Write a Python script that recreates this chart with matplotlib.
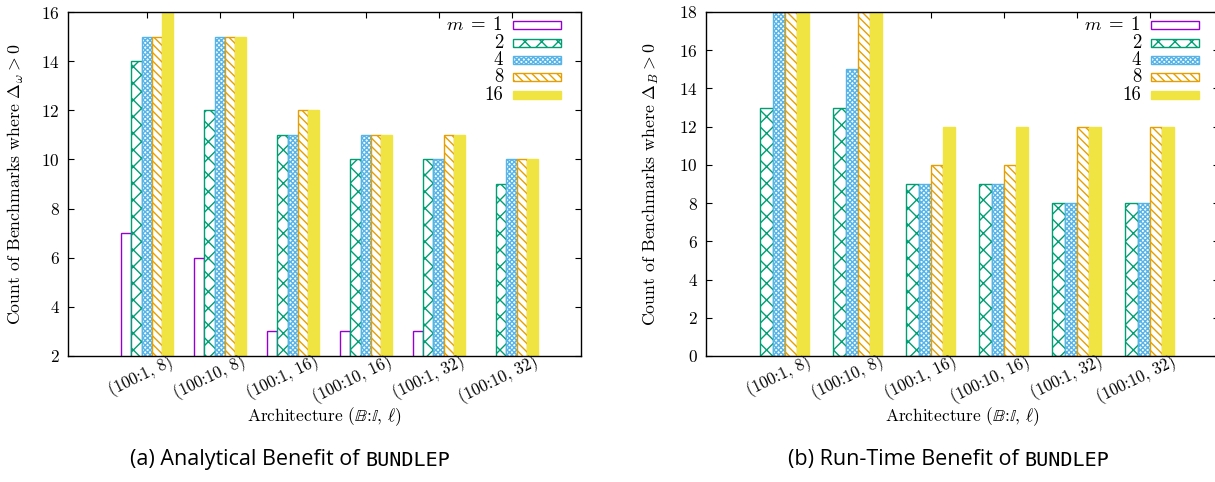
import matplotlib
matplotlib.use("Agg")
import matplotlib.pyplot as plt
import matplotlib.transforms as mtransforms
from matplotlib.patches import Rectangle
import numpy as np

# ---------------- data ----------------
architectures = ["(100:1, 8)", "(100:10, 8)", "(100:1, 16)",
                 "(100:10, 16)", "(100:1, 32)", "(100:10, 32)"]
series_labels = ["$m\\;=\\;1$", "2", "4", "8", "16"]

# (a) Analytical benefit: count of benchmarks where Delta_omega > 0
a_m1 = [7, 6, 3, 3, 3, 0]
a_m2 = [14, 12, 11, 10, 10, 9]
a_m4 = [15, 15, 11, 11, 10, 10]
a_m8 = [15, 15, 12, 11, 11, 10]
a_m16 = [16, 15, 12, 11, 11, 10]

# (b) Run-time benefit: count of benchmarks where Delta_B > 0 (m = 1 not plotted)
b_m2 = [13, 13, 9, 9, 8, 8]
b_m4 = [18, 15, 9, 9, 8, 8]
b_m8 = [18, 18, 10, 10, 12, 12]
b_m16 = [18, 18, 12, 12, 12, 12]

a_yticks = [2, 4, 6, 8, 10, 12, 14, 16]
b_yticks = [0, 2, 4, 6, 8, 10, 12, 14, 16, 18]

# ---------------- style ----------------
colors = ["#9400d3", "#009e73", "#56b4e9", "#e69f00", "#f0e442"]
hatches = [None, "xx", "xxxxxxx", "\\\\\\\\", None]
faces = ["white", "white", "white", "white", "#f0e442"]

plt.rcParams["font.family"] = ["cmr10", "DejaVu Serif"]
plt.rcParams["mathtext.fontset"] = "cm"
plt.rcParams["axes.formatter.use_mathtext"] = True
plt.rcParams["hatch.linewidth"] = 1.0
plt.rcParams["axes.unicode_minus"] = False

W, H = 1215, 482
fig = plt.figure(figsize=(W / 100, H / 100), dpi=100)


def px_axes(x0, y_top, w, h):
    return fig.add_axes([x0 / W, 1 - (y_top + h) / H, w / W, h / H])


ax_a = px_axes(68, 12, 513, 344)
ax_b = px_axes(706, 12, 513, 344)

x = np.arange(len(architectures))


def draw_bars(ax, values_list, series_idx):
    n = len(values_list)
    width = 1.0 / (n + 2)
    for k, (vals, si) in enumerate(zip(values_list, series_idx)):
        off = (k - (n - 1) / 2) * width
        ax.bar(x + off, vals, width, bottom=0,
               facecolor=faces[si], edgecolor=colors[si],
               hatch=hatches[si], linewidth=1.0, zorder=2)


draw_bars(ax_a, [a_m1, a_m2, a_m4, a_m8, a_m16], [0, 1, 2, 3, 4])
draw_bars(ax_b, [b_m2, b_m4, b_m8, b_m16], [1, 2, 3, 4])

ax_a.set_ylim(2, 16)
ax_a.set_yticks(a_yticks)
ax_b.set_ylim(0, 18)
ax_b.set_yticks(b_yticks)

for ax, ylab, ylx in [(ax_a, r"Count of Benchmarks where $\Delta_\omega > 0$", -0.082),
                      (ax_b, r"Count of Benchmarks where $\Delta_B > 0$", -0.088)]:
    ax.set_xlim(-1.08, 5.95)
    ax.set_xticks(x)
    ax.set_xticklabels([])
    ax.tick_params(axis="both", direction="in", length=4, width=0.8,
                   top=True, right=True, labelsize=12.5, pad=6)
    for s in ax.spines.values():
        s.set_linewidth(1.0)
    ax.set_ylabel(ylab, fontsize=12.8)
    ax.yaxis.set_label_coords(ylx, 0.5)
    # rotated category labels
    off = mtransforms.ScaledTranslation(25 / 100, -5 / 100, fig.dpi_scale_trans)
    trans = ax.get_xaxis_transform() + off
    for xi, lab in zip(x, architectures):
        ax.text(xi, 0, lab, transform=trans, rotation=26,
                rotation_mode="anchor", ha="right", va="center", fontsize=12)
    ax.set_xlabel(r"Architecture ($\mathbb{B}$:$\mathbb{I}$, $\ell$)",
                  fontsize=12.5)
    ax.xaxis.set_label_coords(0.5, -0.142)

    # legend (manual, gnuplot-like, right aligned text)
    row_h = 0.0503
    for i, lab in enumerate(series_labels):
        yc = 0.961 - i * row_h
        ax.text(0.848, yc, lab, transform=ax.transAxes, ha="right",
                va="center", fontsize=13.5, zorder=5)
        ax.add_patch(Rectangle((0.867, yc - 0.0115), 0.094, 0.023,
                               transform=ax.transAxes, facecolor=faces[i],
                               edgecolor=colors[i], hatch=hatches[i],
                               linewidth=1.0, zorder=5, clip_on=False))

# captions: "(x) ... of " in sans + "BUNDLEP" in monospace
captions = [("(a) Analytical Benefit of ", 290), ("(b) Run-Time Benefit of ", 949)]
fig.canvas.draw()
renderer = fig.canvas.get_renderer()
for txt, cx in captions:
    t1 = fig.text(0, 22 / H, txt, fontsize=15.5, family="Open Sans",
                  ha="left", va="center")
    t2 = fig.text(0, 22 / H, "BUNDLEP", fontsize=14.5, family="DejaVu Sans Mono",
                  ha="left", va="center")
    w1 = t1.get_window_extent(renderer).width
    w2 = t2.get_window_extent(renderer).width
    x0 = cx - (w1 + w2) / 2
    t1.set_x(x0 / W)
    t2.set_x((x0 + w1) / W)

fig.savefig("out.png", dpi=100)
